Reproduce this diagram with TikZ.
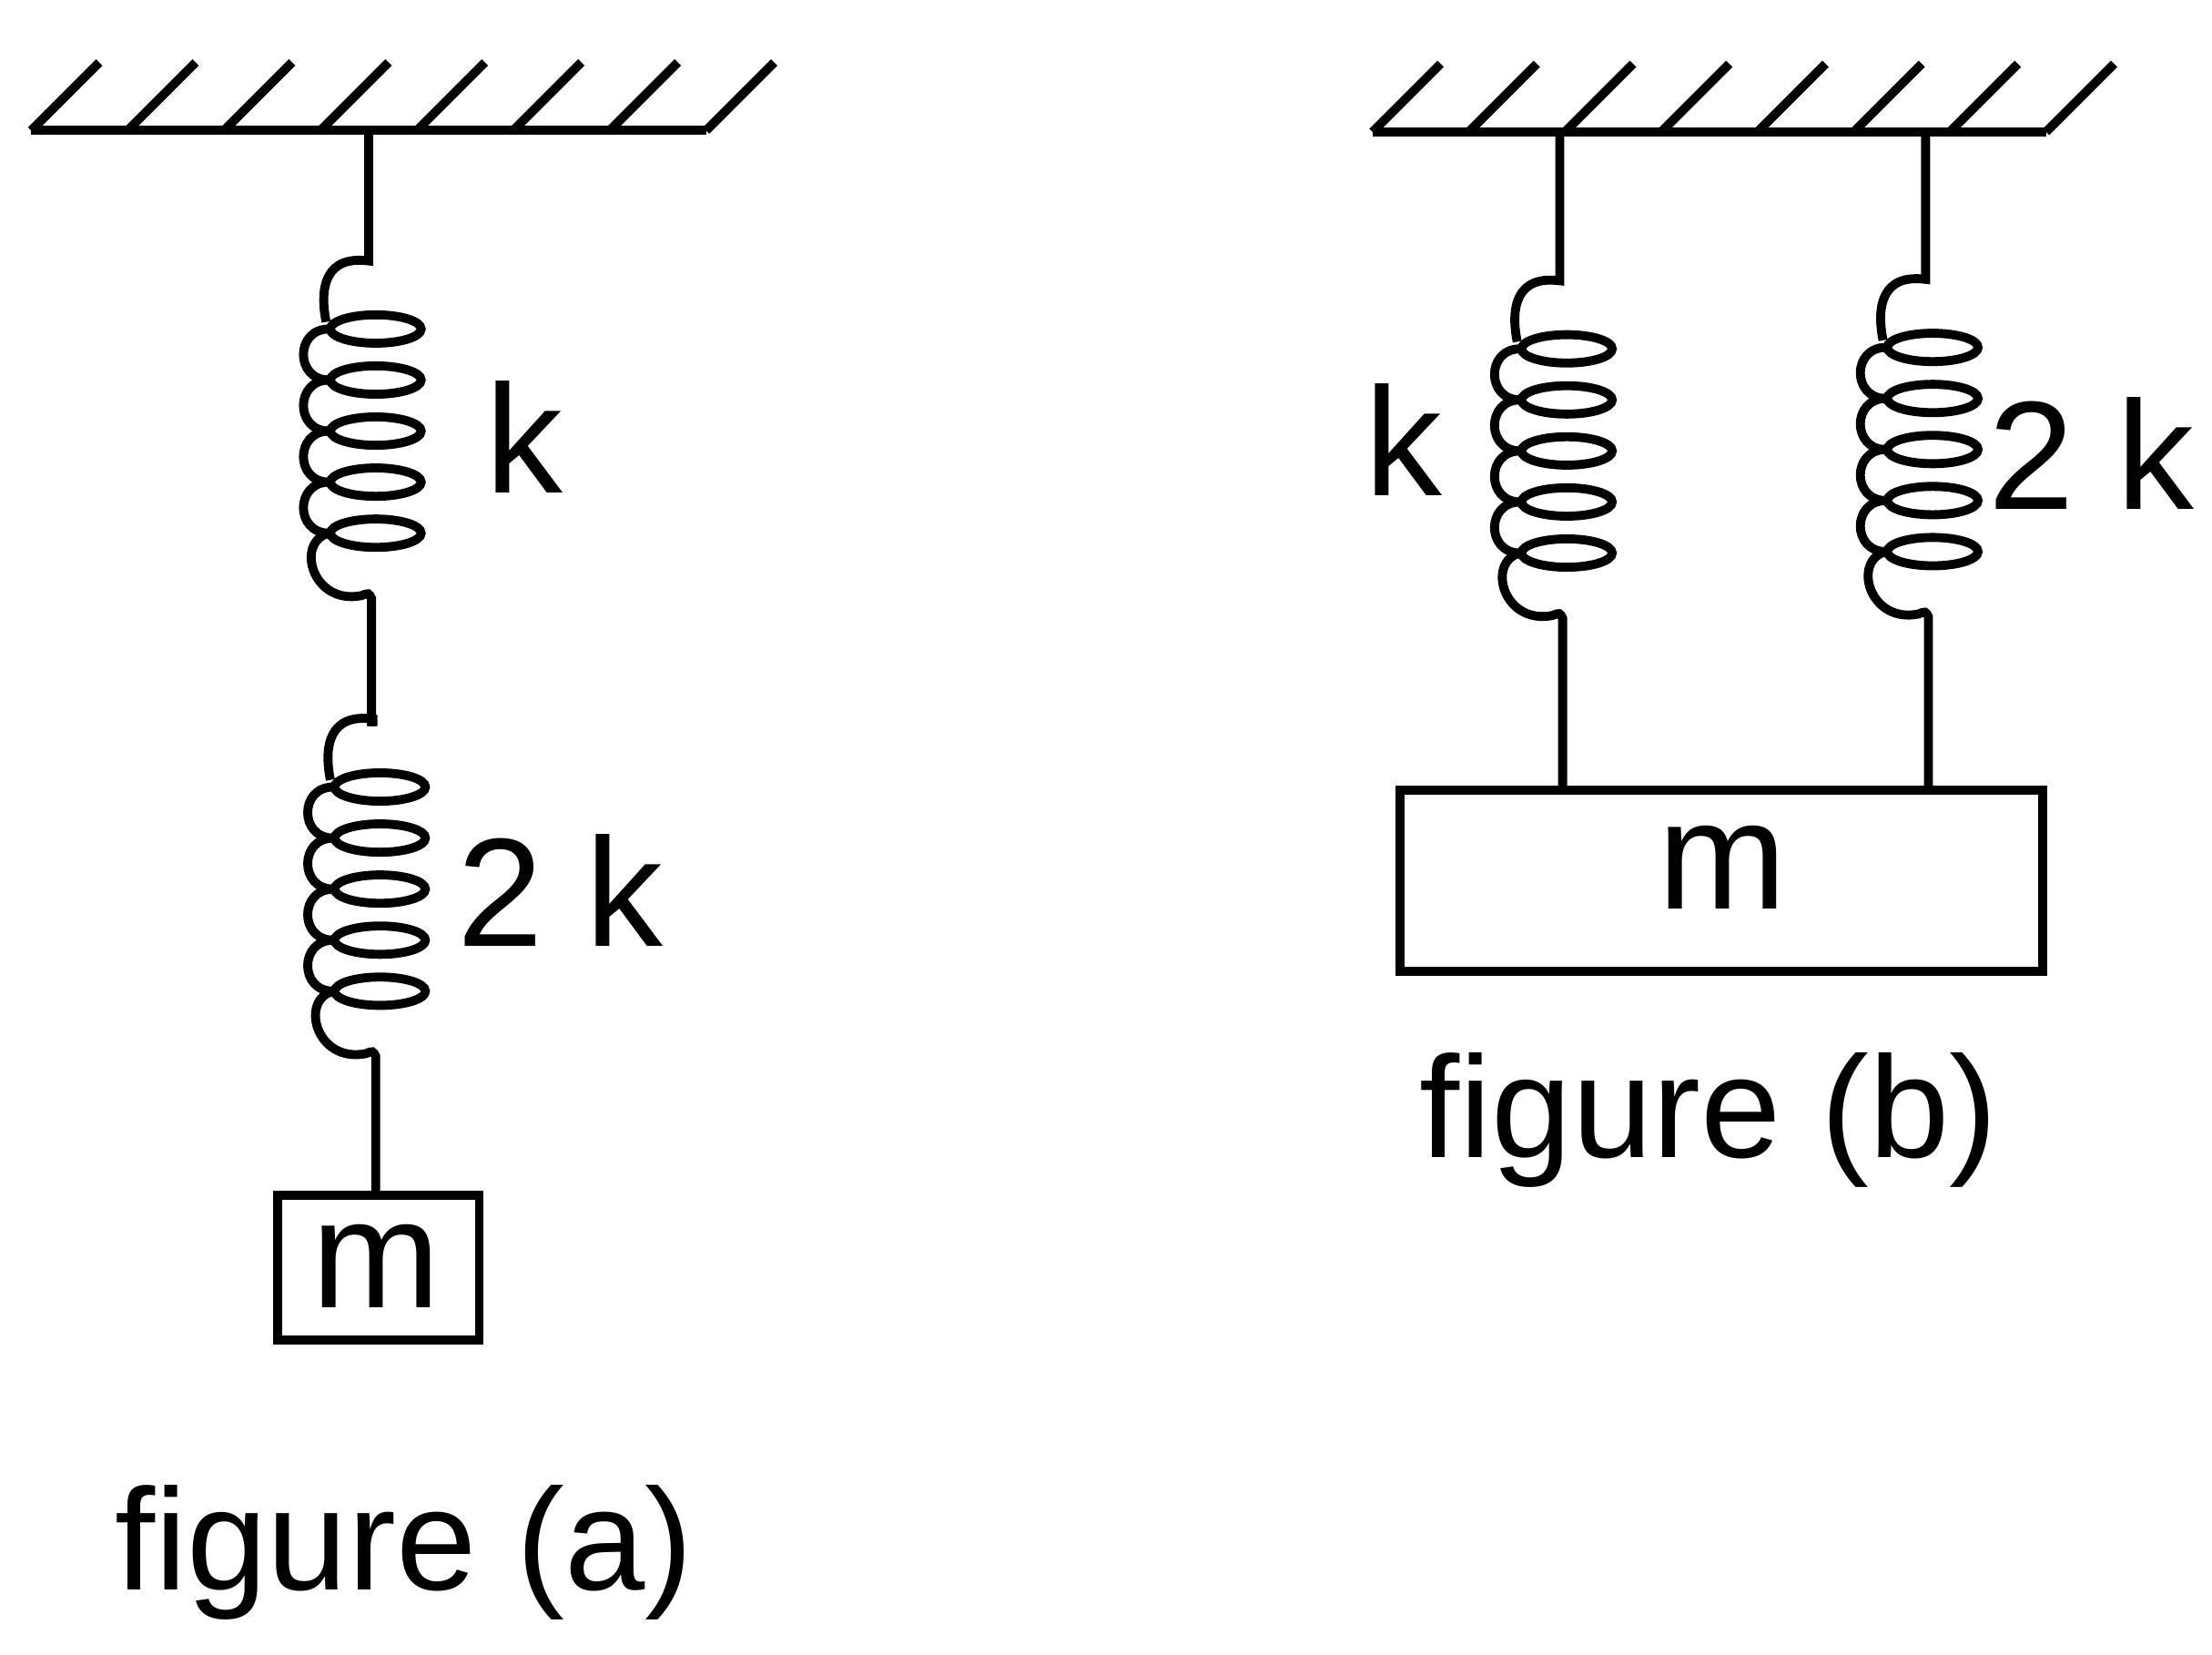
\documentclass[tikz,border=0pt]{standalone}
\usepackage{fontspec}
\setmainfont{Liberation Sans}
\begin{document}
\begin{tikzpicture}[x=0.02cm,y=-0.02cm,line width=3.6pt,
  lab/.style={font=\fontsize{62}{70}\selectfont,inner sep=0},
  figcap/.style={font=\fontsize{58}{66}\selectfont,inner sep=0}]
\useasboundingbox (0,0) rectangle (1560,1167);
\newcommand\ceil[3]{% x1 x2 y
  \draw (#1,#3) -- (#2,#3);
  \foreach \i in {0,...,7} \draw ({#1+\i*(#2-#1)/7},#3) -- ({#1+\i*(#2-#1)/7+48},#3-48);}
\newcommand\myspring[4]{% x ytop yfirst ybot, spacing 36
  \draw (#1,#2) -- (#1,#3-48) .. controls (#1-30,#3-52) and (#1-35,#3-30) .. (#1-30,#3-5);
  \foreach \i in {0,...,4} {
    \draw ({#1+5},{#3+\i*36}) ellipse [x radius=32,y radius=10];
  }
  \foreach \i in {0,...,3} {
    \draw ({#1-28},{#3+\i*36}) .. controls ({#1-52},{#3+\i*36}) and ({#1-52},{#3+\i*36+36}) .. ({#1-28},{#3+\i*36+36});
  }
  \draw ({#1-28},{#3+144}) .. controls ({#1-52},{#3+150}) and ({#1-40},{#3+195}) .. ({#1-5},{#3+188}) .. controls ({#1},{#3+186}) .. ({#1+2},{#3+190}) -- (#1+2,#4);}
% figure a
\ceil{22}{498}{92}
\myspring{260}{92}{232}{512}
\myspring{263}{512}{555}{840}
\node[draw,line width=3.6pt,minimum width=142*0.02cm,minimum height=102*0.02cm,inner sep=0] (ma) at (267,894) {};
\node[lab] at (265,893) {m};
\node[lab] at (370,308) {k};
\node[lab] at (395,628) {2 k};
\node[figcap] at (285,1095) {figure (a)};
% figure b
\ceil{968}{1443}{93}
\myspring{1100}{93}{246}{555}
\myspring{1358}{93}{245}{555}
\node[draw,line width=3.6pt,minimum width=453*0.02cm,minimum height=128*0.02cm,inner sep=0] (mb) at (1214,621) {};
\node[lab] at (1215,612) {m};
\node[lab] at (990,310) {k};
\node[lab] at (1475,320) {2 k};
\node[figcap] at (1205,790) {figure (b)};
\end{tikzpicture}
\end{document}
